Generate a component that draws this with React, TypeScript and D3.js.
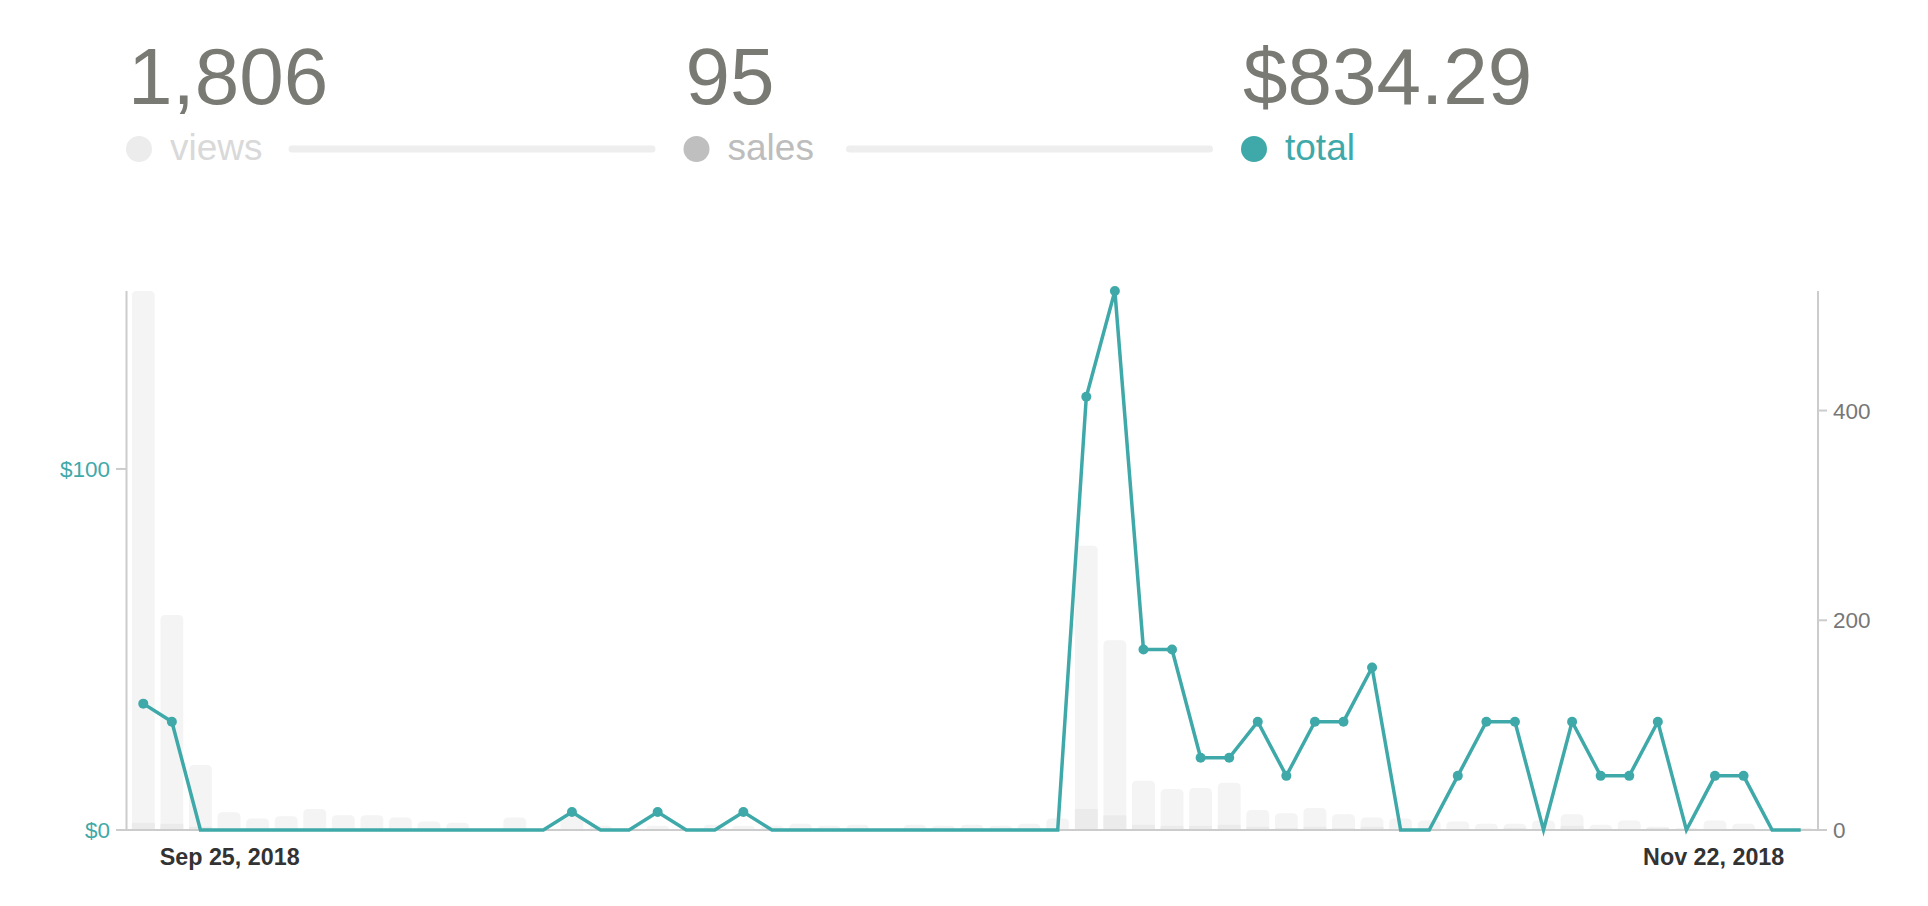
import React from "react";
import * as d3 from "d3";

// ---- data ----
const startDate = "2018-09-25";
const endDate = "2018-11-22";
const dayIndex: number[] = d3.range(59);

const views: number[] = [
  514, 205, 62, 17, 11, 13, 20, 14, 14, 12,
  8, 7, 1, 12, 1, 13, 4, 1, 4, 1,
  5, 4, 4, 6, 4, 5, 1, 5, 4, 5,
  4, 6, 11, 271, 181, 47, 39, 40, 45, 19,
  16, 21, 15, 12, 11, 9, 8, 6, 6, 9,
  15, 5, 9, 3, 2, 9, 6, 1, 2,
];

const sales: number[] = [
  7, 6, 3, 0, 0, 0, 0, 0, 0, 0,
  0, 0, 0, 0, 0, 1, 0, 0, 1, 0,
  0, 1, 0, 0, 0, 0, 0, 0, 0, 0,
  0, 0, 0, 20, 14, 5, 4, 4, 5, 3,
  2, 3, 2, 3, 0, 0, 1, 1, 2, 0,
  4, 1, 1, 2, 0, 1, 1, 0, 0,
];

const totals: number[] = [
  35, 30, 0, 0, 0, 0, 0, 0, 0, 0,
  0, 0, 0, 0, 0, 5, 0, 0, 5, 0,
  0, 5, 0, 0, 0, 0, 0, 0, 0, 0,
  0, 0, 0, 120, 149.29, 50, 50, 20, 20, 30,
  15, 30, 30, 45, 0, 0, 15, 30, 30, 0,
  30, 15, 15, 30, 0, 15, 15, 0, 0,
];

const leftTicks: number[] = [0, 100];
const rightTicks: number[] = [0, 200, 400];

const summaryLabels: string[] = ["views", "sales", "total"];
const summaryValues: string[] = ["1,806", "95", "$834.29"];
const summaryDot: string[] = ["#ececec", "#bfbfbf", "#3fa9a9"];
const summaryText: string[] = ["#d9d9d9", "#bdbdbd", "#3fa9a9"];

const TEAL = "#3fa9a9";
const FONT = "'Helvetica Neue', Helvetica, 'Liberation Sans', Arial, sans-serif";

function topRoundedBar(x: number, y0: number, w: number, h: number, r: number) {
  if (h <= 0) return "";
  const rr = Math.min(r, h, w / 2);
  const top = y0 - h;
  return `M${x},${y0}V${top + rr}Q${x},${top} ${x + rr},${top}H${x + w - rr}Q${x + w},${top} ${x + w},${top + rr}V${y0}Z`;
}

export default function App() {
  const W = 1928;
  const H = 906;
  const axisL = 126.5;
  const axisR = 1818;
  const y0 = 830;
  const yTop = 291;

  const x = d3
    .scaleBand<number>()
    .domain(dayIndex)
    .range([129, 1815])
    .paddingInner(0.2)
    .paddingOuter(0.1);
  const bw = x.bandwidth();
  const cx = (i: number) => (x(i) as number) + bw / 2;

  const yL = d3.scaleLinear().domain([0, d3.max(totals) as number]).range([y0, yTop]);
  const yR = d3.scaleLinear().domain([0, d3.max(views) as number]).range([y0, yTop]);

  const line = d3
    .line<number>()
    .x((_, i) => cx(i))
    .y((d) => yL(d));

  const fmtDate = d3.timeFormat("%b %-d, %Y");
  const parse = d3.timeParse("%Y-%m-%d");
  const startLabel = fmtDate(parse(startDate) as Date);
  const endLabel = fmtDate(parse(endDate) as Date);

  const colW = 557.5;
  const colX0 = 126;

  return (
    <svg
      width={W}
      height={H}
      style={{ position: "absolute", left: 0, top: 0, background: "#fff" }}
      fontFamily={FONT}
    >
      {/* header summary */}
      {summaryLabels.map((lab, k) => {
        const cxl = colX0 + k * colW;
        return (
          <g key={lab}>
            <text x={cxl + 2} y={104} fontSize={80} fill="#7a7a74">
              {summaryValues[k]}
            </text>
            <circle cx={cxl + 13} cy={149} r={13} fill={summaryDot[k]} />
            <text x={cxl + 44} y={160} fontSize={37} fill={summaryText[k]}>
              {lab}
            </text>
            {k < 2 && (
              <line
                x1={cxl + 166}
                x2={cxl + 526}
                y1={149}
                y2={149}
                stroke="#eeeeee"
                strokeWidth={7}
                strokeLinecap="round"
              />
            )}
          </g>
        );
      })}

      {/* views bars */}
      {views.map((v, i) => (
        <path
          key={"v" + i}
          d={topRoundedBar(x(i) as number, y0, bw, y0 - yR(v), 5)}
          fill="#f4f4f4"
        />
      ))}
      {/* sales bars */}
      {sales.map((v, i) => (
        <path
          key={"s" + i}
          d={topRoundedBar(x(i) as number, y0, bw, y0 - yR(v), 1)}
          fill="#ebebeb"
        />
      ))}

      {/* axes */}
      <line x1={axisL} x2={axisL} y1={yTop} y2={y0 + 1} stroke="#cccccc" strokeWidth={2} />
      <line x1={axisR} x2={axisR} y1={yTop} y2={y0 + 1} stroke="#cccccc" strokeWidth={2} />
      <line x1={axisL} x2={axisR} y1={y0} y2={y0} stroke="#cccccc" strokeWidth={2} />
      {leftTicks.map((t) => (
        <g key={"lt" + t}>
          <line x1={116} x2={axisL} y1={yL(t)} y2={yL(t)} stroke="#cccccc" strokeWidth={2} />
          <text
            x={110}
            y={yL(t)}
            dy="0.36em"
            textAnchor="end"
            fontSize={22.5}
            fill={TEAL}
          >
            {"$" + d3.format(",")(t)}
          </text>
        </g>
      ))}
      {rightTicks.map((t) => (
        <g key={"rt" + t}>
          <line x1={axisR} x2={axisR + 9} y1={yR(t)} y2={yR(t)} stroke="#cccccc" strokeWidth={2} />
          <text x={1833} y={yR(t)} dy="0.36em" fontSize={22.5} fill="#777777">
            {t}
          </text>
        </g>
      ))}

      {/* total line */}
      <path
        d={line(totals) || ""}
        fill="none"
        stroke={TEAL}
        strokeWidth={3.5}
        strokeLinejoin="miter"
      />
      {totals.map((v, i) =>
        v > 0 ? <circle key={"p" + i} cx={cx(i)} cy={yL(v)} r={5} fill={TEAL} /> : null
      )}

      {/* x labels */}
      <text
        x={(x(0) as number) + bw + 5}
        y={865}
        fontSize={23.3}
        fontWeight="bold"
        fill="#333333"
      >
        {startLabel}
      </text>
      <text
        x={(x(58) as number) - 5}
        y={865}
        fontSize={23.3}
        fontWeight="bold"
        fill="#333333"
        textAnchor="end"
      >
        {endLabel}
      </text>
    </svg>
  );
}
